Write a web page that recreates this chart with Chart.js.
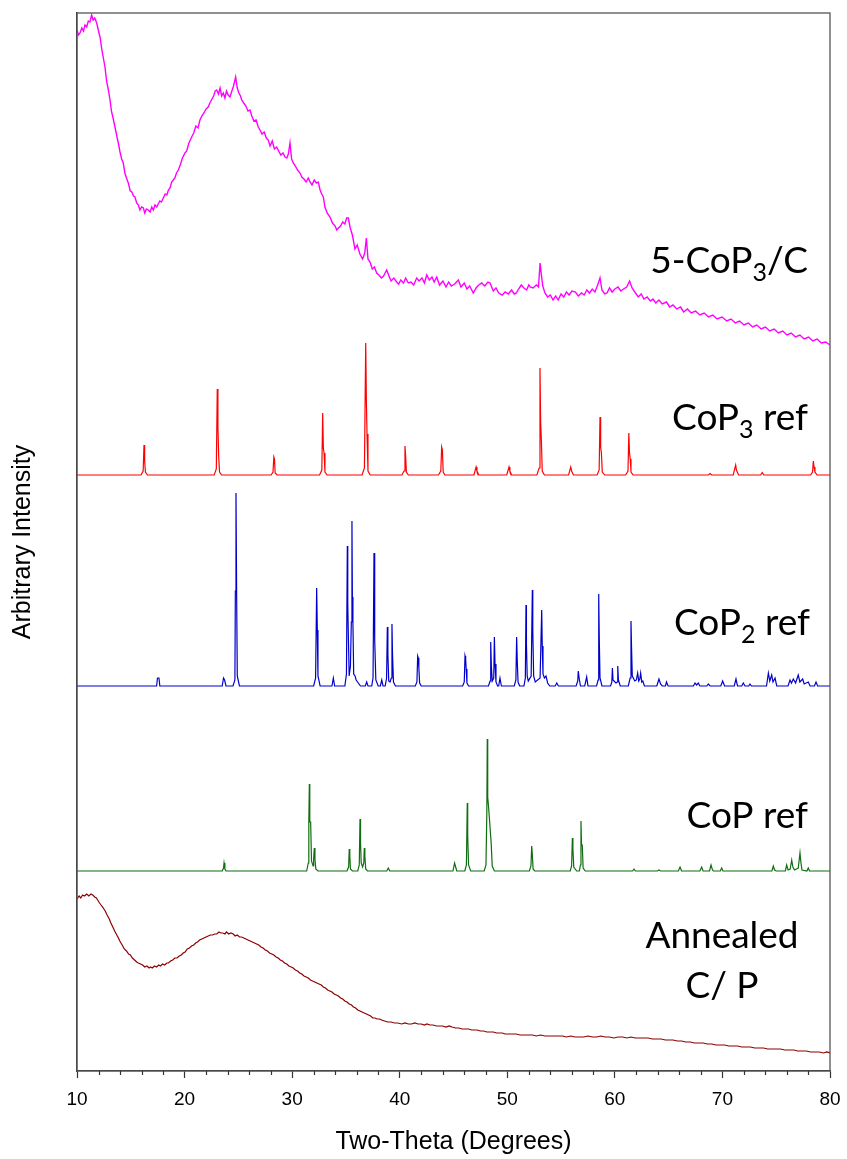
<!DOCTYPE html>
<html>
<head>
<meta charset="utf-8">
<script src="https://cdn.jsdelivr.net/npm/chart.js@4.4.1/dist/chart.umd.min.js"></script>
<style>
  html, body { margin: 0; padding: 0; background: #fff; }
  #chart { display: block; }
</style>
</head>
<body>
<canvas id="chart" width="847" height="1159"></canvas>
<script>
// XRD patterns, [two-theta, intensity above own baseline]
var cop3C = [[10.0,341],[10.14,336],[10.28,338],[10.45,343],[10.6,340],[10.74,346],[10.9,344],[11.05,350],[11.2,349],[11.36,356],[11.5,351],[11.65,353],[11.83,348],[12.0,340],[12.14,334],[12.3,322],[12.45,313],[12.6,304],[12.75,290],[12.9,282],[13.07,271],[13.2,260],[13.35,253],[13.53,244],[13.7,235],[13.84,228],[14.0,219],[14.15,212],[14.3,208],[14.45,198],[14.6,193],[14.77,188],[14.95,180],[15.1,179],[15.25,175],[15.39,174],[15.55,168],[15.7,166],[15.85,161],[16.0,164],[16.17,163],[16.3,158],[16.45,162],[16.63,161],[16.8,159],[16.95,164],[17.1,161],[17.25,166],[17.41,164],[17.55,167],[17.7,170],[17.85,169],[18.02,173],[18.2,177],[18.35,176],[18.5,181],[18.65,183],[18.8,189],[18.95,191],[19.1,193],[19.25,198],[19.42,201],[19.6,206],[19.8,213],[20.04,218],[20.2,220],[20.4,228],[20.66,234],[20.85,238],[21.05,245],[21.25,243],[21.43,251],[21.6,255],[21.8,258],[22.0,262],[22.2,264],[22.35,268],[22.5,271],[22.7,275],[22.85,280],[22.99,281],[23.15,277],[23.3,283],[23.45,275],[23.6,278],[23.75,273],[23.9,280],[24.05,276],[24.22,274],[24.4,280],[24.55,285],[24.75,294],[24.9,283],[25.05,278],[25.2,275],[25.31,271],[25.5,268],[25.7,265],[25.9,260],[26.08,261],[26.25,255],[26.45,250],[26.65,251],[26.85,244],[27.01,241],[27.2,237],[27.4,239],[27.6,233],[27.78,231],[27.95,225],[28.15,230],[28.35,222],[28.56,224],[28.75,220],[28.95,216],[29.15,218],[29.34,214],[29.5,213],[29.65,217],[29.8,228],[29.95,212],[30.11,208],[30.3,205],[30.5,201],[30.73,198],[30.9,194],[31.1,192],[31.3,189],[31.5,193],[31.66,189],[31.85,186],[32.05,191],[32.25,188],[32.43,189],[32.6,181],[32.75,177],[32.9,174],[33.05,164],[33.25,158],[33.52,154],[33.75,148],[34.0,145],[34.14,141],[34.3,143],[34.5,145],[34.7,149],[34.9,147],[35.07,153],[35.22,153],[35.4,143],[35.6,136],[35.84,122],[36.05,126],[36.3,117],[36.55,112],[36.75,118],[36.9,133],[37.05,112],[37.24,109],[37.45,102],[37.65,104],[37.86,98],[38.05,96],[38.3,93],[38.5,95],[38.79,101],[39.0,95],[39.2,90],[39.45,93],[39.72,89],[39.9,87],[40.1,91],[40.35,88],[40.55,93],[40.8,88],[41.05,89],[41.3,86],[41.58,93],[41.8,90],[42.07,93],[42.3,88],[42.51,96],[42.75,91],[43.0,94],[43.2,89],[43.44,94],[43.7,86],[44.02,90],[44.3,84],[44.55,89],[44.8,85],[45.1,87],[45.45,91],[45.7,84],[46.0,88],[46.25,82],[46.5,85],[46.84,78],[47.1,83],[47.35,86],[47.62,88],[47.9,85],[48.2,89],[48.4,88],[48.7,80],[48.95,83],[49.2,78],[49.53,76],[49.8,79],[50.1,77],[50.4,81],[50.65,77],[50.84,78],[51.05,82],[51.3,86],[51.55,83],[51.8,81],[52.0,86],[52.13,84],[52.4,83],[52.7,86],[52.9,84],[53.05,108],[53.15,98],[53.3,85],[53.5,78],[53.75,74],[54.0,76],[54.25,71],[54.5,75],[54.73,71],[55.0,77],[55.25,74],[55.5,79],[55.75,76],[56.0,80],[56.34,79],[56.6,75],[56.9,78],[57.15,76],[57.4,81],[57.64,78],[57.9,82],[58.15,79],[58.4,86],[58.62,93],[58.8,81],[59.05,77],[59.27,78],[59.5,83],[59.75,79],[60.0,82],[60.3,84],[60.55,80],[60.8,82],[61.1,84],[61.37,90],[61.6,83],[61.85,79],[62.18,74],[62.45,77],[62.7,72],[63.0,74],[63.3,70],[63.55,72],[63.8,68],[64.1,71],[64.4,67],[64.8,69],[65.1,64],[65.4,66],[65.75,62],[66.1,64],[66.4,59],[66.75,62],[67.1,58],[67.5,60],[67.9,56],[68.3,58],[68.7,54],[69.1,56],[69.5,52],[69.96,54],[70.4,50],[70.8,52],[71.2,48],[71.6,50],[72.0,46],[72.4,48],[72.8,44],[73.2,46],[73.6,42],[74.0,44],[74.4,40],[74.8,42],[75.2,38],[75.6,40],[76.0,36],[76.4,38],[76.8,34],[77.2,36],[77.6,32],[78.0,34],[78.4,30],[78.8,32],[79.2,28],[79.6,29],[80.0,26]];

var cop3Ref = [[10,0],[15.95,0],[16.15,4],[16.23,30],[16.29,14],[16.36,3],[16.55,0],
  [22.75,0],[22.95,6],[23.04,86],[23.1,48],[23.17,19],[23.25,3],[23.45,0],
  [28.05,0],[28.22,3],[28.3,18],[28.36,16],[28.42,2],[28.6,0],
  [32.55,0],[32.76,5],[32.84,62],[32.9,27],[32.97,22],[33.05,3],[33.25,0],
  [36.5,0],[36.72,7],[36.84,132],[36.9,74],[36.96,41],[37.05,4],[37.25,0],
  [40.2,0],[40.4,4],[40.49,29],[40.55,19],[40.62,3],[40.8,0],
  [43.6,0],[43.82,4],[43.9,28],[43.97,25],[44.04,3],[44.2,0],
  [46.9,0],[47.1,8],[47.18,4],[47.35,0],
  [49.95,0],[50.16,8],[50.24,4],[50.4,0],
  [52.75,0],[52.96,7],[53.04,107],[53.1,53],[53.17,34],[53.25,4],[53.45,0],
  [55.7,0],[55.9,8],[55.98,4],[56.15,0],
  [58.35,0],[58.54,5],[58.62,58],[58.68,28],[58.75,22],[58.83,3],[59.05,0],
  [61.0,0],[61.22,4],[61.3,42],[61.36,22],[61.43,16],[61.5,3],[61.7,0],
  [68.7,0],[68.85,1.5],[69.0,0],
  [71.0,0],[71.23,10],[71.3,5],[71.5,0],
  [73.55,0],[73.7,2.5],[73.85,0],
  [78.2,0],[78.38,3],[78.45,14],[78.52,8],[78.6,3],[78.8,0],
  [80,0]];

var cop2Ref = [[10,0],
  [17.4,0],[17.48,8],[17.62,8],[17.7,0],
  [23.5,0],[23.62,8],[23.72,6],[23.85,0],
  [24.5,0],[24.68,6],[24.72,95],[24.78,193],[24.84,92],[24.9,10],[25.1,0],
  [32.0,0],[32.18,8],[32.28,98],[32.34,56],[32.4,10],[32.6,0],
  [33.7,0],[33.83,8],[33.95,0],
  [34.9,0],[35.05,12],[35.13,140],[35.17,83],[35.22,53],[35.3,10],[35.42,20],[35.5,64],[35.56,165],[35.6,89],[35.65,64],[35.72,12],[35.85,10],[35.95,6],[36.15,3],[36.35,0],
  [36.8,0],[36.93,4],[37.05,0],
  [37.4,0],[37.52,8],[37.61,133],[37.65,104],[37.7,46],[37.78,6],[38.0,0],
  [38.2,0],[38.33,6],[38.45,0],
  [38.65,0],[38.78,8],[38.85,59],[38.9,32],[38.98,5],[39.1,4],[39.22,8],[39.28,62],[39.33,32],[39.42,4],[39.6,0],
  [41.45,0],[41.6,4],[41.67,30],[41.73,28],[41.78,18],[41.85,3],[42.0,0],
  [45.85,0],[46.0,4],[46.07,30],[46.13,27],[46.18,17],[46.25,3],[46.4,0],
  [48.25,0],[48.4,5],[48.46,44],[48.52,20],[48.6,5],[48.74,8],[48.8,49],[48.86,22],[48.95,4],[49.1,0],
  [49.2,0],[49.32,8],[49.45,0],
  [50.65,0],[50.8,6],[50.87,49],[50.93,24],[51.0,4],[51.15,0],
  [51.55,0],[51.68,8],[51.74,81],[51.78,42],[51.85,10],[51.95,5],[52.22,10],[52.33,96],[52.37,56],[52.45,10],[52.6,4],
  [53.05,8],[53.2,76],[53.25,40],[53.32,12],[53.45,8],[53.6,10],[53.75,3],[53.95,0],
  [54.45,0],[54.6,3],[54.75,0],
  [56.4,0],[56.55,5],[56.6,15],[56.68,8],[56.8,0],
  [57.2,0],[57.38,9],[57.5,0],
  [58.3,0],[58.44,6],[58.5,92],[58.55,48],[58.62,8],[58.8,0],
  [59.6,0],[59.72,4],[59.77,18],[59.83,6],[60.1,3],[60.22,4],[60.27,20],[60.33,6],[60.5,0],
  [61.25,0],[61.42,8],[61.5,65],[61.55,39],[61.62,10],[61.85,5],[62.0,6],[62.12,13],[62.22,5],[62.32,7],[62.4,13],[62.5,4],[62.6,5],[62.75,0],
  [63.9,0],[64.1,7],[64.25,2],[64.4,0],[64.7,0],[64.8,4],[64.95,0],
  [67.3,0],[67.45,3],[67.6,1],[67.76,3],[67.9,0],
  [68.55,0],[68.69,2],[68.85,0],
  [69.85,0],[70.02,5],[70.2,0],
  [71.1,0],[71.26,7],[71.4,0],[71.8,0],[71.94,3],[72.1,0],[72.45,0],[72.56,2],[72.7,0],
  [74.1,0],[74.27,13],[74.4,5],[74.58,11],[74.7,4],[74.89,8],[75.05,0],
  [76.1,0],[76.28,6],[76.42,3],[76.59,7],[76.8,3],[77.05,11],[77.2,4],[77.46,7],[77.6,2],[77.98,4],[78.15,0],
  [78.55,0],[78.7,4],[78.85,0],
  [80,0]];

var copRef = [[10,0],
  [23.5,0],[23.62,3],[23.67,8],[23.75,2],[23.85,0],
  [31.35,0],[31.5,8],[31.55,49],[31.6,87],[31.64,49],[31.72,49],[31.8,10],[31.95,5],[32.0,12],[32.06,23],[32.12,12],[32.2,2],[32.4,0],
  [35.1,0],[35.25,4],[35.31,22],[35.36,15],[35.42,2],[35.6,0],
  [36.1,0],[36.24,6],[36.31,52],[36.36,28],[36.42,8],[36.55,4],[36.66,8],[36.71,23],[36.76,15],[36.84,2],[37.0,0],
  [38.8,0],[38.94,3],[39.08,0],
  [44.95,0],[45.1,8],[45.2,4],[45.3,0],
  [46.05,0],[46.2,6],[46.28,68],[46.32,36],[46.4,6],[46.6,0],
  [47.85,0],[48.02,6],[48.1,60],[48.14,132],[48.18,74],[48.26,64],[48.37,48],[48.5,28],[48.6,5],[48.8,0],
  [52.05,0],[52.2,5],[52.27,25],[52.32,18],[52.4,2],[52.55,0],
  [55.85,0],[55.98,5],[56.05,33],[56.1,22],[56.18,4],[56.45,0],[56.7,0],[56.8,6],[56.85,50],[56.9,26],[56.97,26],[57.05,3],[57.25,0],
  [61.65,0],[61.78,2],[61.9,0],
  [63.95,0],[64.1,1],[64.25,0],
  [65.9,0],[66.06,4],[66.2,0],
  [67.9,0],[68.07,4],[68.2,0],
  [68.8,0],[68.94,6],[69.05,2],[69.15,0],
  [69.8,0],[69.93,3],[70.05,0],
  [74.6,0],[74.73,5],[74.85,1],[75.0,0],
  [75.85,0],[75.97,6],[76.1,1],[76.3,2],[76.44,11],[76.55,4],[76.7,1],
  [77.05,3],[77.21,18],[77.3,8],[77.4,1],[77.85,0],[77.98,3],[78.1,0],
  [80,0]];

var annealed = [[10.0,172],[10.2,175],[10.35,173],[10.52,176],[10.7,175],[10.9,177],[11.1,175],[11.3,177],[11.46,176],[11.65,174],[11.8,173],[11.92,171],[12.1,168],[12.3,165],[12.45,163],[12.62,160],[12.8,156],[13.0,152],[13.15,148],[13.33,144],[13.5,140],[13.7,136],[13.85,133],[14.03,129],[14.2,126],[14.4,122],[14.6,120],[14.8,117],[14.96,116],[15.15,113],[15.35,111],[15.55,109],[15.7,108],[15.9,107],[16.1,106],[16.3,104],[16.5,105],[16.7,103],[16.83,104],[17.0,103],[17.2,105],[17.4,104],[17.6,106],[17.76,105],[17.95,107],[18.15,106],[18.35,108],[18.5,108],[18.7,110],[18.9,111],[19.1,113],[19.3,113],[19.5,115],[19.7,116],[19.87,118],[20.05,119],[20.25,122],[20.45,123],[20.65,125],[20.85,126],[21.03,128],[21.2,129],[21.4,131],[21.6,132],[21.8,133],[22.0,134],[22.2,135],[22.4,136],[22.6,136],[22.8,137],[23.0,137],[23.2,139],[23.37,138],[23.55,138],[23.75,137],[23.9,139],[24.1,137],[24.3,138],[24.53,137],[24.7,135],[24.9,136],[25.1,134],[25.3,134],[25.5,133],[25.7,132],[25.9,131],[26.1,130],[26.3,129],[26.5,128],[26.7,127],[26.9,126],[27.1,124],[27.3,123],[27.5,121],[27.7,120],[27.9,118],[28.1,117],[28.3,116],[28.51,114],[28.7,113],[28.9,111],[29.1,110],[29.3,108],[29.5,107],[29.7,105],[29.91,104],[30.1,103],[30.3,101],[30.5,100],[30.7,98],[30.9,97],[31.1,95],[31.31,94],[31.5,93],[31.7,91],[31.9,90],[32.1,89],[32.3,88],[32.5,87],[32.71,86],[32.9,84],[33.1,83],[33.3,81],[33.5,80],[33.7,79],[33.9,77],[34.11,76],[34.3,75],[34.5,73],[34.7,72],[34.9,70],[35.1,69],[35.3,67],[35.52,66],[35.7,64],[35.9,63],[36.1,61],[36.3,60],[36.5,59],[36.7,58],[36.91,57],[37.1,56],[37.3,55],[37.5,53],[37.7,53],[37.9,52],[38.1,52],[38.32,51],[38.6,50],[38.9,49],[39.2,49],[39.5,48],[39.8,48],[40.19,47],[40.5,48],[40.8,47],[41.1,47],[41.4,48],[41.7,47],[42.0,47],[42.3,46],[42.52,47],[42.8,46],[43.1,46],[43.4,45],[43.7,45],[44.0,45],[44.3,44],[44.6,45],[44.86,44],[45.2,43],[45.5,43],[45.8,42],[46.1,42],[46.4,42],[46.7,41],[47.0,41],[47.19,41],[47.5,40],[47.8,40],[48.1,39],[48.4,39],[48.7,39],[49.0,38],[49.3,38],[49.53,38],[49.8,37],[50.1,37],[50.4,37],[50.8,37],[51.2,36],[51.6,36],[52.0,36],[52.34,36],[52.7,35],[53.1,36],[53.5,35],[53.9,35],[54.3,35],[54.7,35],[55.13,35],[55.5,34],[55.9,35],[56.3,34],[56.7,34],[57.1,34],[57.5,35],[57.94,34],[58.3,34],[58.7,35],[59.1,34],[59.5,34],[59.9,33],[60.3,34],[60.74,34],[61.1,33],[61.5,34],[61.9,33],[62.3,33],[62.7,33],[63.08,33],[63.5,32],[63.9,32],[64.3,32],[64.7,31],[65.1,31],[65.41,31],[65.8,30],[66.2,30],[66.6,29],[67.0,29],[67.4,28],[67.8,28],[68.21,28],[68.6,27],[69.0,27],[69.4,26],[69.8,26],[70.2,26],[70.6,25],[71.0,25],[71.4,25],[71.8,24],[72.2,24],[72.6,24],[73.0,23],[73.4,23],[73.82,23],[74.2,22],[74.6,22],[75.0,22],[75.4,22],[75.8,21],[76.2,21],[76.63,21],[77.0,20],[77.4,20],[77.8,20],[78.2,19],[78.6,19],[79.0,19],[79.4,18],[79.7,19],[80.0,18]];

var majorTicks = [10, 20, 30, 40, 50, 60, 70, 80];
var minorTicks = [12, 14, 16, 18, 22, 24, 26, 28, 32, 34, 36, 38, 42, 44, 46, 48, 52, 54, 56, 58, 62, 64, 66, 68, 72, 74, 76, 78];

// vertical offsets of the stacked patterns
var offsets = { cop3C: 700, cop3Ref: 596, cop2Ref: 385, copRef: 200, annealed: 0 };

var labelFont = '37px Lato';
var subFont = '25px Lato';

var seriesLabels = [
	{ parts: [['5-CoP'], ['3', 1], ['/C']], x: 77.96, y: 798, align: 'right' },
	{ parts: [['CoP'], ['3', 1], [' ref']], x: 77.96, y: 641, align: 'right' },
	{ parts: [['CoP'], ['2', 1], [' ref']], x: 78.14, y: 436, align: 'right' },
	{ parts: [['CoP ref']], x: 77.96, y: 243, align: 'right' },
	{ parts: [['Annealed']], x: 69.96, y: 123, align: 'center' },
	{ parts: [['C/ P']], x: 69.96, y: 73, align: 'center' }
];

function pts(arr, off) {
	return arr.map(function (p) { return { x: p[0], y: p[1] + off }; });
}

var framePlugin = {
	id: 'frame',
	afterDraw: function (chart) {
		var a = chart.chartArea, ctx = chart.ctx, x = chart.scales.x;
		ctx.save();
		ctx.strokeStyle = '#555';
		ctx.lineWidth = 1.3;
		ctx.strokeRect(a.left, a.top, a.right - a.left, a.bottom - a.top);
		ctx.strokeStyle = '#333';
		ctx.lineWidth = 1.2;
		minorTicks.forEach(function (v) {
			var px = Math.round(x.getPixelForValue(v)) + 0.5;
			ctx.beginPath();
			ctx.moveTo(px, a.bottom);
			ctx.lineTo(px, a.bottom + 4);
			ctx.stroke();
		});
		ctx.restore();
	}
};

var labelPlugin = {
	id: 'seriesLabels',
	afterDatasetsDraw: function (chart) {
		var ctx = chart.ctx, x = chart.scales.x, y = chart.scales.y;
		ctx.save();
		ctx.fillStyle = '#000';
		ctx.textBaseline = 'alphabetic';
		ctx.textAlign = 'left';
		seriesLabels.forEach(function (l) {
			var w = 0;
			l.parts.forEach(function (p) {
				ctx.font = p[1] ? subFont : labelFont;
				w += ctx.measureText(p[0]).width;
			});
			var px = x.getPixelForValue(l.x);
			if (l.align === 'right') px -= w;
			if (l.align === 'center') px -= w / 2;
			var py = y.getPixelForValue(l.y);
			l.parts.forEach(function (p) {
				ctx.font = p[1] ? subFont : labelFont;
				ctx.fillText(p[0], px, py + (p[1] ? 8 : 0));
				px += ctx.measureText(p[0]).width;
			});
		});
		ctx.restore();
	}
};

function draw() {
	var axisFont = 'Liberation Sans';
	new Chart(document.getElementById('chart'), {
		type: 'line',
		data: {
			datasets: [
				{ data: pts(cop3C, offsets.cop3C), borderColor: '#FF00FF', borderWidth: 1.4 },
				{ data: pts(cop3Ref, offsets.cop3Ref), borderColor: '#FF0000' },
				{ data: pts(cop2Ref, offsets.cop2Ref), borderColor: '#0000CC' },
				{ data: pts(copRef, offsets.copRef), borderColor: '#0F6E0F' },
				{ data: pts(annealed, offsets.annealed), borderColor: '#8B0000' }
			]
		},
		options: {
			responsive: false,
			animation: false,
			layout: { padding: { top: 13, right: 17, left: 0, bottom: 0 } },
			elements: {
				point: { radius: 0 },
				line: { borderWidth: 1.2, tension: 0 }
			},
			plugins: { legend: { display: false }, tooltip: { enabled: false } },
			scales: {
				x: {
					type: 'linear', min: 10, max: 80,
					afterBuildTicks: function (s) { s.ticks = majorTicks.map(function (v) { return { value: v }; }); },
					ticks: { font: { family: axisFont, size: 19 }, color: '#000', padding: 10, maxRotation: 0 },
					grid: { drawOnChartArea: false, tickLength: 7, color: '#333', tickWidth: 1.2 },
					border: { color: '#333', width: 1.3 },
					title: { display: true, text: 'Two-Theta (Degrees)', color: '#000', font: { family: axisFont, size: 25 }, padding: { top: 0, bottom: 2 } },
					afterFit: function (s) { s.height = 88; s.paddingLeft = 0; s.paddingRight = 0; }
				},
				y: {
					min: 0, max: 1058,
					ticks: { display: false },
					grid: { display: false },
					border: { color: '#333', width: 1.3 },
					title: { display: true, text: 'Arbitrary Intensity', color: '#000', font: { family: axisFont, size: 25 }, padding: { top: 8 } },
					afterFit: function (s) { s.width = 77; s.paddingTop = 0; s.paddingBottom = 0; }
				}
			}
		},
		plugins: [framePlugin, labelPlugin]
	});
}

draw();
</script>
</body>
</html>
